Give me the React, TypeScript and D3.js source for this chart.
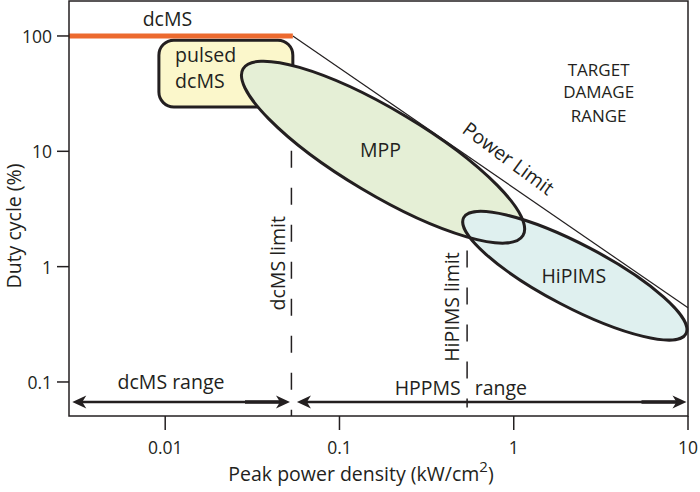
import React from 'react';
import * as d3 from 'd3';

// axis ticks
const xTicks = [0.01, 0.1, 1, 10];
const xTickLabels = ['0.01', '0.1', '1', '10'];
const yTicks = [0.1, 1, 10, 100];
const yTickLabels = ['0.1', '1', '10', '100'];

// dcMS line (duty cycle 100%) and power limit
const dcmsLine = [[0.0028, 100], [0.054, 100]];
const powerLimit = [[0.054, 100], [10, 0.44]];

// vertical limits: [x, yTop, yBottom]
const dcmsLimit = [0.053, 10.1, 0.0507];
const hipimsLimit = [0.54, 1.38, 0.06];

// range arrows: [xStart, xEnd, y]
const dcmsRange = [0.00293, 0.052, 0.067];
const hppmsRange = [0.057, 9.8, 0.067];

// pulsed dcMS box: [x0, x1, yTop, yBottom]
const pulsedBox = [0.0092, 0.054, 92, 24.2];

// regions as ellipses: tips in data + width ratio
const mppTips = [[0.028, 52], [1.13, 1.86]];
const hipimsTips = [[0.516, 2.66], [9.74, 0.262]];
const mppRatio = 0.26;
const hipimsRatio = 0.25;

const W = 700;
const H = 492;
const font = '"Open Sans", "DejaVu Sans", sans-serif';
const ink = '#231f20';

export default function App() {
  const x = d3.scaleLog().domain([0.002805, 10]).range([69, 688]);
  const y = d3.scaleLog().domain([0.0507, 201]).range([416, 1]);

  const ellipse = (tips: number[][], ratio: number) => {
    const x1 = x(tips[0][0]), y1 = y(tips[0][1]);
    const x2 = x(tips[1][0]), y2 = y(tips[1][1]);
    const cx = (x1 + x2) / 2, cy = (y1 + y2) / 2;
    const a = Math.hypot(x2 - x1, y2 - y1) / 2;
    const ang = (Math.atan2(y2 - y1, x2 - x1) * 180) / Math.PI;
    return { cx, cy, rx: a, ry: a * ratio, ang };
  };
  const mpp = ellipse(mppTips, mppRatio);
  const hip = ellipse(hipimsTips, hipimsRatio);

  const plAngle =
    (Math.atan2(y(powerLimit[1][1]) - y(powerLimit[0][1]), x(powerLimit[1][0]) - x(powerLimit[0][0])) * 180) /
    Math.PI;

  const line = d3.line<number[]>().x(d => x(d[0])).y(d => y(d[1]));

  const arrow = (r: number[], key: string) => {
    const xa = x(r[0]), xb = x(r[1]), yy = y(r[2]);
    const head = (tip: number, dir: number) =>
      `M${tip},${yy} L${tip + dir * 14},${yy - 6.5} L${tip + dir * 10},${yy} L${tip + dir * 14},${yy + 6.5} Z`;
    return (
      <g key={key}>
        <line x1={xa + 8} x2={xb - 8} y1={yy} y2={yy} stroke={ink} strokeWidth={2.6} />
        <line x1={xb - 45} x2={xb - 8} y1={yy} y2={yy} stroke={ink} strokeWidth={3.6} />
        <path d={head(xa, 1)} fill={ink} />
        <path d={head(xb, -1)} fill={ink} />
      </g>
    );
  };

  const txt = { fontFamily: font, fontSize: 19.5, fill: ink } as const;
  const tick = { fontFamily: font, fontSize: 17.5, fill: ink } as const;

  return (
    <svg width={W} height={H} style={{ position: 'absolute', left: 0, top: 0, background: '#fff' }}>
      {/* fills */}
      <rect
        x={x(pulsedBox[0])}
        y={y(pulsedBox[2])}
        width={x(pulsedBox[1]) - x(pulsedBox[0])}
        height={y(pulsedBox[3]) - y(pulsedBox[2])}
        rx={15}
        fill="#fbf7cb"
        stroke={ink}
        strokeWidth={3}
      />
      <ellipse
        cx={mpp.cx} cy={mpp.cy} rx={mpp.rx} ry={mpp.ry}
        transform={`rotate(${mpp.ang},${mpp.cx},${mpp.cy})`}
        fill="#e5efd6"
      />
      <ellipse
        cx={hip.cx} cy={hip.cy} rx={hip.rx} ry={hip.ry}
        transform={`rotate(${hip.ang},${hip.cx},${hip.cy})`}
        fill="#dff0ef"
      />

      {/* power limit */}
      <path d={line(powerLimit) || ''} fill="none" stroke={ink} strokeWidth={1.2} />

      {/* outlines */}
      <ellipse
        cx={mpp.cx} cy={mpp.cy} rx={mpp.rx} ry={mpp.ry}
        transform={`rotate(${mpp.ang},${mpp.cx},${mpp.cy})`}
        fill="none" stroke={ink} strokeWidth={3}
      />
      <ellipse
        cx={hip.cx} cy={hip.cy} rx={hip.rx} ry={hip.ry}
        transform={`rotate(${hip.ang},${hip.cx},${hip.cy})`}
        fill="none" stroke={ink} strokeWidth={3}
      />

      {/* dcMS at 100% */}
      <path d={line(dcmsLine) || ''} fill="none" stroke="#ec6a2f" strokeWidth={5} />

      {/* limits */}
      <line x1={x(dcmsLimit[0])} x2={x(dcmsLimit[0])} y1={y(dcmsLimit[1])} y2={y(dcmsLimit[2])}
        stroke={ink} strokeWidth={1.5} strokeDasharray="17 20" />
      <line x1={x(hipimsLimit[0])} x2={x(hipimsLimit[0])} y1={y(hipimsLimit[1])} y2={y(hipimsLimit[2])}
        stroke={ink} strokeWidth={1.5} strokeDasharray="17 20" />

      {/* ranges */}
      {arrow(dcmsRange, 'a1')}
      {arrow(hppmsRange, 'a2')}

      {/* frame */}
      <rect x={69} y={1} width={619} height={415} fill="none" stroke={ink} strokeWidth={1.5} />

      {/* ticks */}
      {yTicks.map((t, i) => (
        <g key={'y' + t}>
          <line x1={57} x2={69} y1={y(t)} y2={y(t)} stroke={ink} strokeWidth={1.5} />
          <text {...tick} x={52} y={y(t)} textAnchor="end" dominantBaseline="central">{yTickLabels[i]}</text>
        </g>
      ))}
      {xTicks.map((t, i) => (
        <g key={'x' + t}>
          <line x1={x(t)} x2={x(t)} y1={416} y2={430} stroke={ink} strokeWidth={1.5} />
          <text {...tick} x={x(t)} y={447} textAnchor="middle" dominantBaseline="central">{xTickLabels[i]}</text>
        </g>
      ))}

      {/* axis titles */}
      <text {...txt} fontSize={19.5} transform="translate(13,226) rotate(-90)" textAnchor="middle" dominantBaseline="central">
        Duty cycle (%)
      </text>
      <text {...txt} fontSize={19.5} x={361} y={481} textAnchor="middle">
        Peak power density (kW/cm<tspan dy={-9} fontSize={15}>2</tspan><tspan dy={9}>)</tspan>
      </text>

      {/* annotations */}
      <text {...txt} x={x(0.0103)} y={y(143)} textAnchor="middle" dominantBaseline="central">dcMS</text>
      <text {...txt} x={x(0.0114)} y={y(68.4)} dominantBaseline="central">pulsed</text>
      <text {...txt} x={x(0.0114)} y={y(40.8)} dominantBaseline="central">dcMS</text>
      <text {...txt} x={x(0.172)} y={y(10.3)} textAnchor="middle" dominantBaseline="central">MPP</text>
      <text {...txt} x={x(2.21)} y={y(0.845)} textAnchor="middle" dominantBaseline="central">HiPIMS</text>
      <text {...txt} x={x(3.07)} y={y(50.7)} textAnchor="middle" dominantBaseline="central" fontSize={17}>TARGET</text>
      <text {...txt} x={x(3.07)} y={y(32.7)} textAnchor="middle" dominantBaseline="central" fontSize={17}>DAMAGE</text>
      <text {...txt} x={x(3.07)} y={y(20.6)} textAnchor="middle" dominantBaseline="central" fontSize={17}>RANGE</text>
      <text {...txt}
        transform={`translate(${x(0.936)},${y(8.75)}) rotate(${plAngle + 2})`}
        textAnchor="middle" dominantBaseline="central">Power Limit</text>
      <text {...txt}
        transform={`translate(${x(0.044)},${y(1.07)}) rotate(-90)`}
        textAnchor="middle" dominantBaseline="central">dcMS limit</text>
      <text {...txt}
        transform={`translate(${x(0.441)},${y(0.446)}) rotate(-90)`}
        textAnchor="middle" dominantBaseline="central">HiPIMS limit</text>
      <text {...txt} x={x(0.0108)} y={y(0.1)} textAnchor="middle" dominantBaseline="central">dcMS range</text>
      <text {...txt} x={x(0.497)} y={y(0.0903)} textAnchor="end" dominantBaseline="central">HPPMS</text>
      <text {...txt} x={x(0.597)} y={y(0.0903)} dominantBaseline="central">range</text>
    </svg>
  );
}
